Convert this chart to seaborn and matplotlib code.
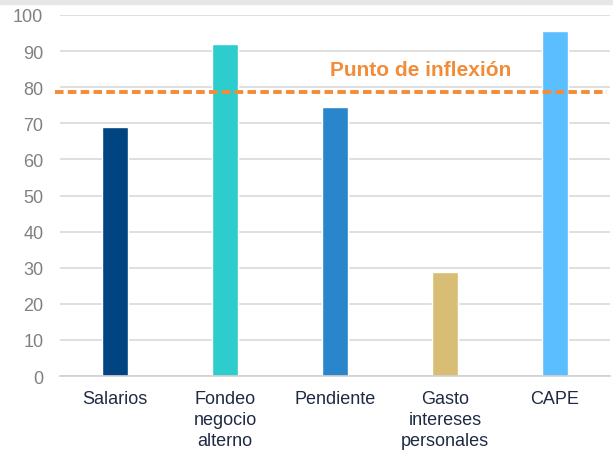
import matplotlib
matplotlib.use("Agg")
import matplotlib.pyplot as plt
from matplotlib.patches import Rectangle
from matplotlib.ticker import FixedLocator
import seaborn as sns
import pandas as pd

categories = ["Salarios", "Fondeo\nnegocio\nalterno", "Pendiente", "Gasto\nintereses\npersonales", "CAPE"]
values = [68.9, 91.9, 74.5, 28.8, 95.6]
colors = ["#004481", "#2DCCCD", "#2A86CA", "#D8BE75", "#5BBEFF"]
threshold = 78.6
threshold_label = "Punto de inflexión"
yticks = [0, 10, 20, 30, 40, 50, 60, 70, 80, 90, 100]

sns.set_theme(style="white")
plt.rcParams['font.family'] = ['Liberation Sans', 'DejaVu Sans']

df = pd.DataFrame({"cat": categories, "val": values})

fig = plt.figure(figsize=(6.13, 4.6), dpi=100)
fig.patches.append(Rectangle((0, 1 - 5/460), 1, 5/460, transform=fig.transFigure,
                             color="#e6e6e6", zorder=0))
ax = fig.add_axes([60/613, 1 - 377/460, 550/613, (377 - 16)/460])

sns.barplot(data=df, x="cat", y="val", hue="cat", palette=colors, width=0.235,
            legend=False, ax=ax, zorder=3, saturation=1)

ax.set_xlim(-0.5, len(categories) - 0.5)
ax.set_ylim(0, 100)
ax.set_yticks(yticks)
ax.yaxis.grid(True, color="#d9d9d9", linewidth=1.2, zorder=0)
ax.xaxis.grid(False)
for s in ["top", "right", "left"]:
    ax.spines[s].set_visible(False)
ax.spines["bottom"].set_color("#d0d0d0")
ax.spines["bottom"].set_linewidth(1.2)
ax.spines["bottom"].set_zorder(4)

ax.tick_params(axis="y", length=0, pad=12, labelsize=13, labelcolor="#808080")
ax.tick_params(axis="x", which="major", length=0, pad=10, labelsize=13, labelcolor="#1F2A44")
ax.xaxis.set_minor_locator(FixedLocator([i - 0.5 for i in range(len(categories) + 1)]))
ax.tick_params(axis="x", which="minor", length=5, width=1.2, color="#d0d0d0", direction="out")
ax.set_xlabel("")
ax.set_ylabel("")
for lbl in ax.get_xticklabels():
    lbl.set_linespacing(1.3)

ax.axhline(threshold, xmin=-0.01, xmax=0.995, color="#F28C38", linewidth=2.8,
           dashes=(2.2, 1.1), zorder=5, clip_on=False)
ax.text(2.78, 84.8, threshold_label, color="#F28C38", fontsize=15, fontweight="bold",
        ha="center", va="center", zorder=6)

fig.savefig("out.png", dpi=100)
